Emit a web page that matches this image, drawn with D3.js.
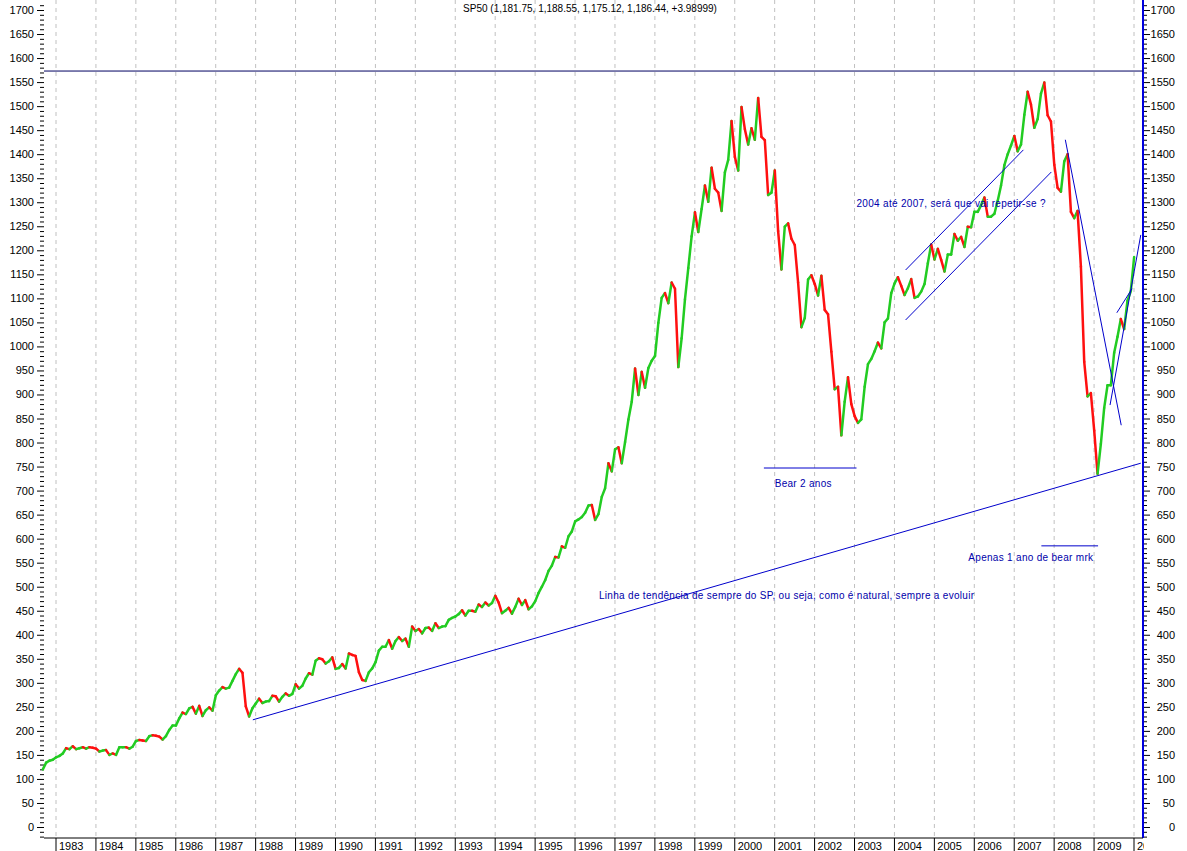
<!DOCTYPE html><html><head><meta charset="utf-8">
<script src="https://cdn.jsdelivr.net/npm/d3@7"></script>
<style>body{margin:0;background:#fff}text{font-family:"Liberation Sans",Arial,sans-serif}</style></head><body>
<svg id="c" width="1187" height="851"></svg>
<script>
const startYear = 1982.67; // Sep 1982, monthly closes
const closes = [
120,134,138,140,
145,148,153,164,162,168,162,164,166,163,166,165,
163,157,159,160,150,153,150,166,166,166,163,167,
179,181,180,179,189,191,190,188,182,189,202,211,
211,226,238,235,247,250,236,252,231,243,249,242,
274,284,291,288,290,304,318,329,321,251,230,247,
257,267,258,261,262,273,272,261,271,278,273,277,
297,288,294,309,320,317,346,351,349,340,345,353,
329,331,339,330,361,358,356,322,306,304,322,330,
343,367,375,375,389,371,387,395,387,392,375,417,
408,412,403,414,415,408,424,414,417,418,431,435,
438,443,451,440,450,450,448,463,458,467,461,466,
481,467,445,450,456,444,458,475,462,472,453,459,
470,487,500,514,533,544,562,561,584,581,605,615,
636,640,645,654,669,670,639,651,687,705,757,740,
786,790,757,801,848,885,954,899,947,914,955,970,
980,1049,1101,1111,1090,1133,1120,957,1017,1098,1163,1229,
1279,1238,1286,1335,1301,1372,1328,1320,1282,1362,1388,1469,
1394,1366,1498,1452,1420,1454,1430,1517,1436,1429,1315,1320,
1366,1240,1160,1249,1256,1224,1211,1133,1040,1059,1139,1148,
1130,1106,1147,1076,1067,989,911,916,815,885,936,880,
855,841,848,916,963,974,990,1008,996,1050,1058,1111,
1131,1144,1126,1107,1121,1140,1101,1104,1114,1130,1173,1212,
1181,1203,1180,1156,1191,1191,1234,1220,1228,1207,1249,1248,
1280,1280,1294,1310,1270,1270,1276,1303,1335,1377,1400,1418,
1438,1406,1420,1482,1530,1503,1455,1473,1526,1549,1481,1468,
1378,1330,1322,1385,1400,1280,1267,1282,1166,968,896,903,
825,735,797,872,919,919,987,1020,1057,1036,1095,1115,
1186];
const years = d3.range(1983, 2011);
const yTicks = d3.range(0, 1701, 50);
const title = "SP50 (1,181.75, 1,188.55, 1,175.12, 1,186.44, +3.98999)";
const hLevel = 1573;
const trendLines = [
  [[1987.93,223],[2010.17,757]],
  [[2004.28,1055],[2007.93,1363]],
  [[2004.28,1159],[2007.23,1409]],
  [[2008.28,1430],[2009.68,836]],
  [[2009.4,878],[2010.17,1232]],
  [[2009.57,1070],[2009.95,1120]],
  [[2000.73,747],[2003.05,747]],
  [[2007.68,585],[2009.1,585]]
];
const notes = [
  {t:"Bear 2 anos", d:2001.0, v:707},
  {t:"Apenas 1 ano de bear mrk", d:2005.85, v:553},
  {t:"Linha de tendência de sempre do SP, ou seja, como é natural, sempre a evoluir", d:1996.6, v:475},
  {t:"2004 até 2007, será que vai repetir-se ?", d:2003.05, v:1290}
];

const svg = d3.select("#c");
const x = d3.scaleLinear().domain([1983, 2010]).range([56, 1134]);
const y = d3.scaleLinear().domain([0, 1700]).range([827, 10]);
const L = 44, R = 1143, B = 838;

svg.append("g").selectAll("line").data(years).join("line")
  .attr("x1", d=>x(d)).attr("x2", d=>x(d)).attr("y1",0).attr("y2",B)
  .attr("stroke","#c0c0c0").attr("stroke-dasharray","4,4");

const la = svg.append("g").attr("transform",`translate(${L},0)`)
  .call(d3.axisLeft(y).tickValues(d3.range(-20,1711,10)).tickSize(3).tickFormat(""));
la.select(".domain").remove();
la.selectAll(".tick line").attr("stroke","#000").attr("x2", d=>d%50===0?-7:-4);
svg.append("g").selectAll("text").data(yTicks).join("text")
  .attr("x",34).attr("y",d=>y(d)+4).attr("text-anchor","end").attr("font-size",11).text(d=>d);

const ra = svg.append("g").attr("transform",`translate(${R},0)`)
  .call(d3.axisRight(y).tickValues(d3.range(-20,1711,10)).tickFormat(""));
ra.select(".domain").remove();
ra.selectAll(".tick line").attr("stroke","#000").attr("x2", d=>d%50===0?7:4);
svg.append("line").attr("x1",R).attr("x2",R).attr("y1",0).attr("y2",B).attr("stroke","#0000e0").attr("stroke-width",2);
svg.append("g").selectAll("text").data(yTicks).join("text")
  .attr("x",1175).attr("y",d=>y(d)+4).attr("text-anchor","end").attr("font-size",11).text(d=>d);

svg.append("line").attr("x1",L).attr("x2",R).attr("y1",B).attr("y2",B).attr("stroke","#000");
svg.append("g").selectAll("line").data(years).join("line")
  .attr("x1",d=>x(d)).attr("x2",d=>x(d)).attr("y1",B).attr("y2",851).attr("stroke","#000");
svg.append("g").selectAll("text").data(years).join("text")
  .attr("x",d=>x(d)+3).attr("y",850).attr("font-size",11).text(d=>d===2010?"20":d);
svg.append("rect").attr("x",R+1).attr("y",839).attr("width",60).attr("height",12).attr("fill","#fff");

svg.append("text").attr("x",590).attr("y",12).attr("text-anchor","middle").attr("font-size",10).text(title);

svg.append("line").attr("x1",L).attr("x2",R).attr("y1",y(hLevel)).attr("y2",y(hLevel)).attr("stroke","#000060");

const g = svg.append("g");
for (let i=1;i<closes.length;i++){
  const up = closes[i]>=closes[i-1];
  g.append("line")
   .attr("x1",x(startYear+(i-1)/12)).attr("y1",y(closes[i-1]))
   .attr("x2",x(startYear+i/12)).attr("y2",y(closes[i]))
   .attr("stroke",up?"#22cc22":"#ff1010").attr("stroke-width",2.5).attr("stroke-linecap","round");
}

svg.append("g").selectAll("line").data(trendLines).join("line")
  .attr("x1",d=>x(d[0][0])).attr("y1",d=>y(d[0][1])).attr("x2",d=>x(d[1][0])).attr("y2",d=>y(d[1][1]))
  .attr("stroke","#0000cc").attr("stroke-width",1);

svg.append("g").selectAll("text").data(notes).join("text")
  .attr("x",d=>x(d.d)).attr("y",d=>y(d.v)).attr("font-size",10).attr("fill","#0000aa")
  .attr("letter-spacing",0.3).text(d=>d.t);
</script></body></html>
